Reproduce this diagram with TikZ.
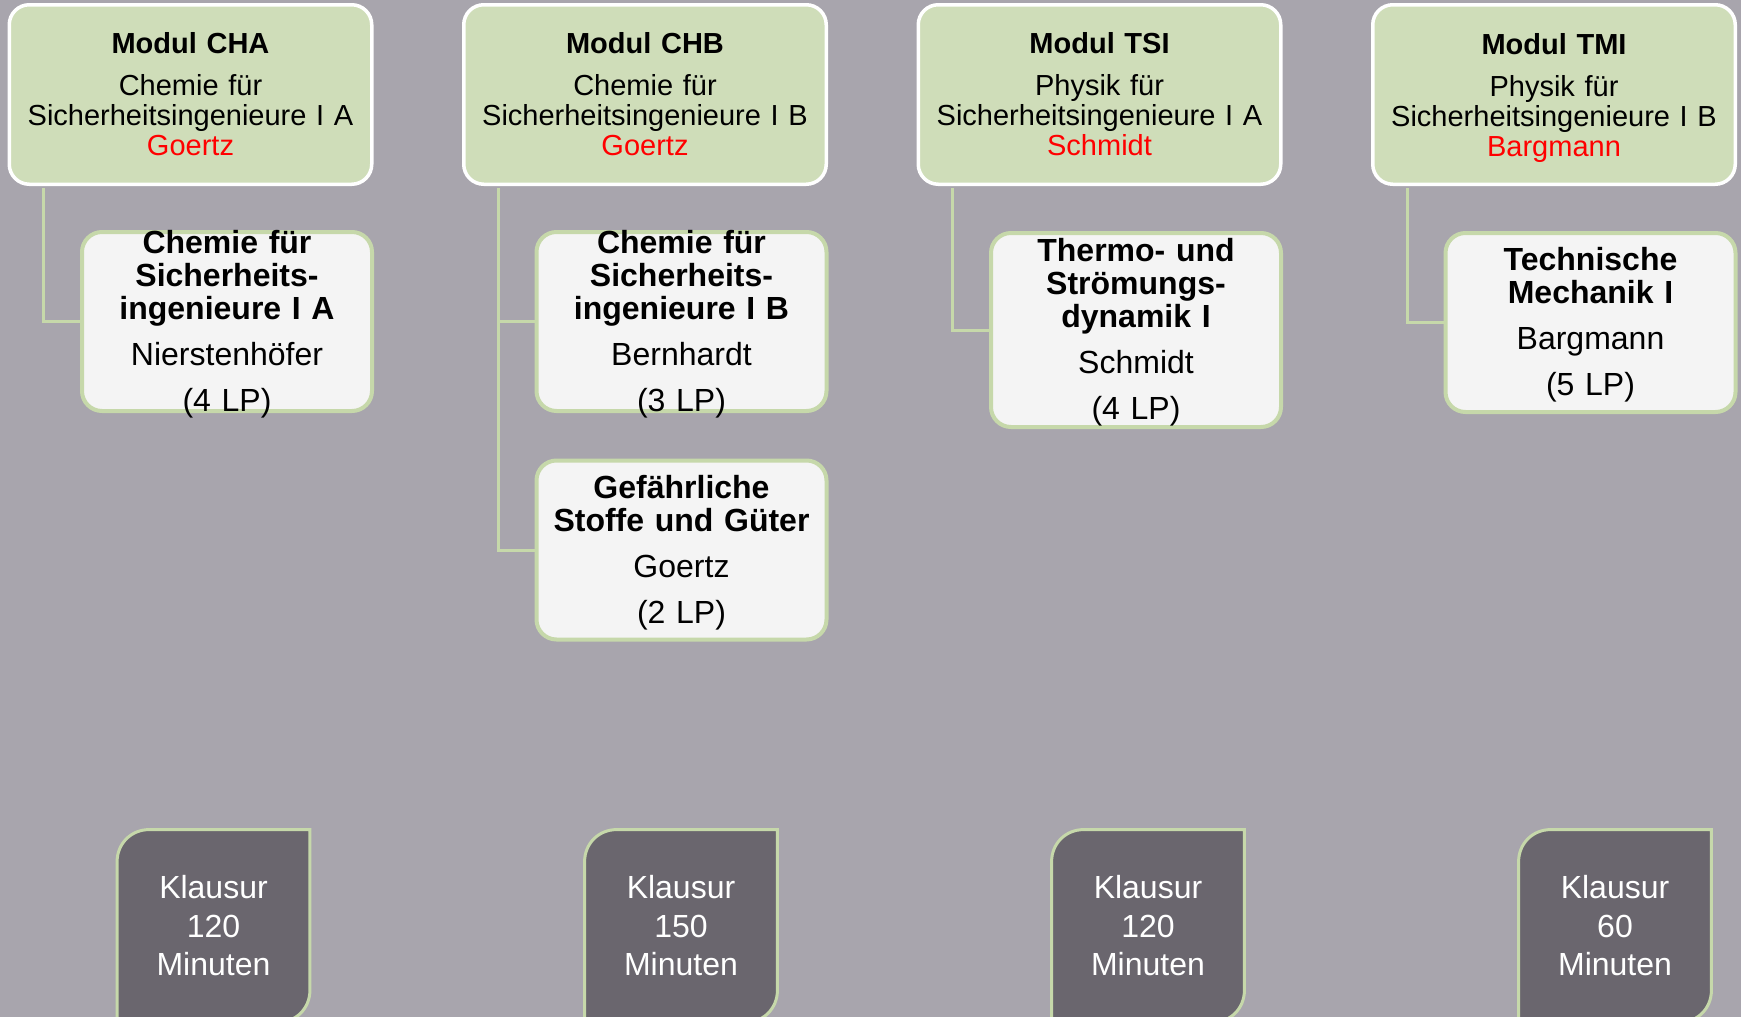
\documentclass[tikz,border=0pt]{standalone}
\usepackage{fontspec}
\setmainfont{Liberation Sans}
\usetikzlibrary{calc,backgrounds}

\definecolor{hgrund}{HTML}{A8A5AD}
\definecolor{modgruen}{HTML}{CFDDB9}
\definecolor{randgruen}{HTML}{C6D8AA}
\definecolor{kursweiss}{HTML}{F4F4F4}
\definecolor{klgrau}{HTML}{6A666E}

\tikzset{
  modul/.style={rectangle,rounded corners=10pt,fill=modgruen,draw=white,
                line width=1.75pt,minimum width=181.25pt,minimum height=89.75pt,
                text width=175pt,align=center,inner xsep=2pt,inner ysep=0pt,
                font=\fontsize{14.5}{15}\selectfont},
  kurs/.style={rectangle,rounded corners=10pt,fill=kursweiss,draw=randgruen,
               line width=2pt,minimum width=145pt,minimum height=89.5pt,
               text width=141pt,align=center,inner xsep=2pt,inner ysep=-4pt,
               font=\fontsize{16}{16.5}\selectfont,
               execute at begin node=\rule{0pt}{14pt}},
  klausur/.style={minimum width=96pt,minimum height=96pt,text width=92pt,
                  align=center,inner sep=2pt,text=white,
                  font=\fontsize{16}{19.25}\selectfont},
  klrand/.style={fill=klgrau,draw=randgruen,line width=1.5pt},
  verbinder/.style={draw=randgruen,line width=1.5pt},
}

\begin{document}
\begin{tikzpicture}[x=0.5pt,y=-0.5pt]
  \useasboundingbox (0,0) rectangle (1741,1017) ;
%
  \node [modul] (mcha) at (190.5,94.5)
    {{\bfseries Modul CHA}\\[6pt] Chemie für\\ Sicherheitsingenieure I A\\ \textcolor{red}{Goertz}} ;
  \node [modul] (mchb) at (645,94.5)
    {{\bfseries Modul CHB}\\[6pt] Chemie für\\ Sicherheitsingenieure I B\\ \textcolor{red}{Goertz}} ;
  \node [modul] (mtsi) at (1099.5,94.5)
    {{\bfseries Modul TSI}\\[6pt] Physik für\\ Sicherheitsingenieure I A\\ \textcolor{red}{Schmidt}} ;
  \node [modul] (mtmi) at (1554,94.5)
    {{\bfseries Modul TMI}\\[6pt] Physik für\\ Sicherheitsingenieure I B\\
     \textcolor{red}{\raisebox{0pt}[\height][0pt]{Bargmann}}} ;
%
  \node [kurs] (vcha) at (227,321.5)
    {{\bfseries Chemie für\\ Sicherheits-\\ ingenieure I A}\\[6.5pt] Nierstenhöfer\\[6.5pt] (4 LP)} ;
  \node [kurs] (vchb) at (681.5,321.5)
    {{\bfseries Chemie für\\ Sicherheits-\\ ingenieure I B}\\[6.5pt] Bernhardt\\[6.5pt] (3 LP)} ;
  \node [kurs] (vgsg) at (681.5,550)
    {{\bfseries Gefährliche\\ Stoffe und Güter}\\[6.5pt] Goertz\\[6.5pt] (2 LP)} ;
  \node [kurs,minimum height=97pt] (vtsi) at (1136,330)
    {{\bfseries Thermo- und\\ Strömungs-\\ dynamik I}\\[6.5pt] Schmidt\\[6.5pt] (4 LP)} ;
  \node [kurs] (vtmi) at (1590.5,322.5)
    {{\bfseries Technische\\ Mechanik I}\\[6.5pt] Bargmann\\[6.5pt] (5 LP)} ;
%
  \draw [verbinder] ($(mcha.south west)+(36,2)$) |- (vcha.west) ;
  \draw [verbinder] ($(mchb.south west)+(36,2)$) |- (vchb.west) ;
  \draw [verbinder] ($(mchb.south west)+(36,2)$) |- (vgsg.west) ;
  \draw [verbinder] ($(mtsi.south west)+(36,2)$) |- (vtsi.west) ;
  \draw [verbinder] ($(mtmi.south west)+(36,2)$) |- (vtmi.west) ;
%
  \node [klausur] (kcha) at (213.5,926) {Klausur\\ 120\\ Minuten} ;
  \node [klausur] (kchb) at (681,926)   {Klausur\\ 150\\ Minuten} ;
  \node [klausur] (ktsi) at (1148,926)  {Klausur\\ 120\\ Minuten} ;
  \node [klausur] (ktmi) at (1615,926)  {Klausur\\ 60\\ Minuten} ;
%
  \begin{scope}[on background layer]
    \clip (0,0) rectangle (1741,1017) ;
    \fill [hgrund] (0,0) rectangle (1741,1017) ;
    \foreach \k in {kcha,kchb,ktsi,ktmi}
      \draw [klrand] (\k.south west) -- ($(\k.north west)+(0,32)$)
        .. controls ($(\k.north west)+(0,14)$) and ($(\k.north west)+(14,0)$) .. ($(\k.north west)+(32,0)$)
        -- (\k.north east) -- ($(\k.south east)+(0,-32)$)
        .. controls ($(\k.south east)+(0,-14)$) and ($(\k.south east)+(-14,0)$) .. ($(\k.south east)+(-32,0)$)
        -- cycle ;
  \end{scope}
\end{tikzpicture}
\end{document}
